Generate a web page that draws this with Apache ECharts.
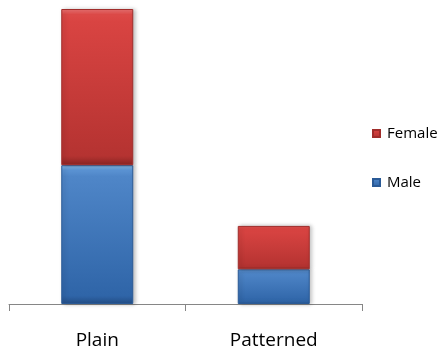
<!DOCTYPE html>
<html>
<head>
<meta charset="utf-8">
<script src="https://cdn.jsdelivr.net/npm/echarts@6/dist/echarts.min.js"></script>
<style>
  html, body { margin: 0; padding: 0; background: #ffffff; }
  #chart { width: 443px; height: 350px; }
</style>
</head>
<body>
<div id="chart"></div>
<script>
// Counts by pattern type, split by sex
const categories = ['Plain', 'Patterned'];
const maleValues = [16, 4];
const femaleValues = [18, 5];
const legendOrder = ['Female', 'Male'];

const chart = echarts.init(document.getElementById('chart'), null, { renderer: 'canvas' });

function vGrad(stops) {
  return new echarts.graphic.LinearGradient(0, 0, 0, 1,
    stops.map(s => ({ offset: s[0], color: s[1] })));
}

const blueFill = vGrad([[0, '#8fc6f2'], [0.035, '#5b93d3'], [0.08, '#4f86c8'], [0.94, '#2f65a8'], [1, '#24508a']]);
const redFill = vGrad([[0, '#ee7474'], [0.035, '#dc4a48'], [0.08, '#d94442'], [0.94, '#b53331'], [1, '#8e2624']]);

chart.setOption({
  animation: false,
  grid: { left: 9, right: 81, top: 9, bottom: 46 },
  legend: {
    data: legendOrder,
    orient: 'vertical',
    left: 367,
    top: 121,
    itemWidth: 7,
    itemHeight: 7,
    itemGap: 34,
    icon: 'rect',
    textStyle: {
      fontFamily: 'Open Sans',
      fontSize: 15,
      color: '#000000',
      padding: [0, 0, 0, 2]
    }
  },
  xAxis: {
    type: 'category',
    data: categories,
    axisLine: { lineStyle: { color: '#868686', width: 1 } },
    axisTick: { show: true, length: 7, lineStyle: { color: '#868686' } },
    axisLabel: {
      fontFamily: 'Open Sans',
      fontSize: 19,
      color: '#000000',
      margin: 27
    }
  },
  yAxis: {
    type: 'value',
    min: 0,
    max: 34,
    show: false,
    splitLine: { show: false }
  },
  series: [
    {
      name: 'Male',
      type: 'bar',
      stack: 'total',
      data: maleValues,
      barWidth: 72,
      itemStyle: {
        color: blueFill,
        borderColor: '#2a5a96',
        borderWidth: 1,
        shadowColor: 'rgba(0,0,0,0.25)',
        shadowBlur: 4,
        shadowOffsetX: 2
      }
    },
    {
      name: 'Female',
      type: 'bar',
      stack: 'total',
      data: femaleValues,
      barWidth: 72,
      itemStyle: {
        color: redFill,
        borderColor: '#a02d2b',
        borderWidth: 1,
        shadowColor: 'rgba(0,0,0,0.25)',
        shadowBlur: 4,
        shadowOffsetX: 2
      }
    }
  ]
});
</script>
</body>
</html>
